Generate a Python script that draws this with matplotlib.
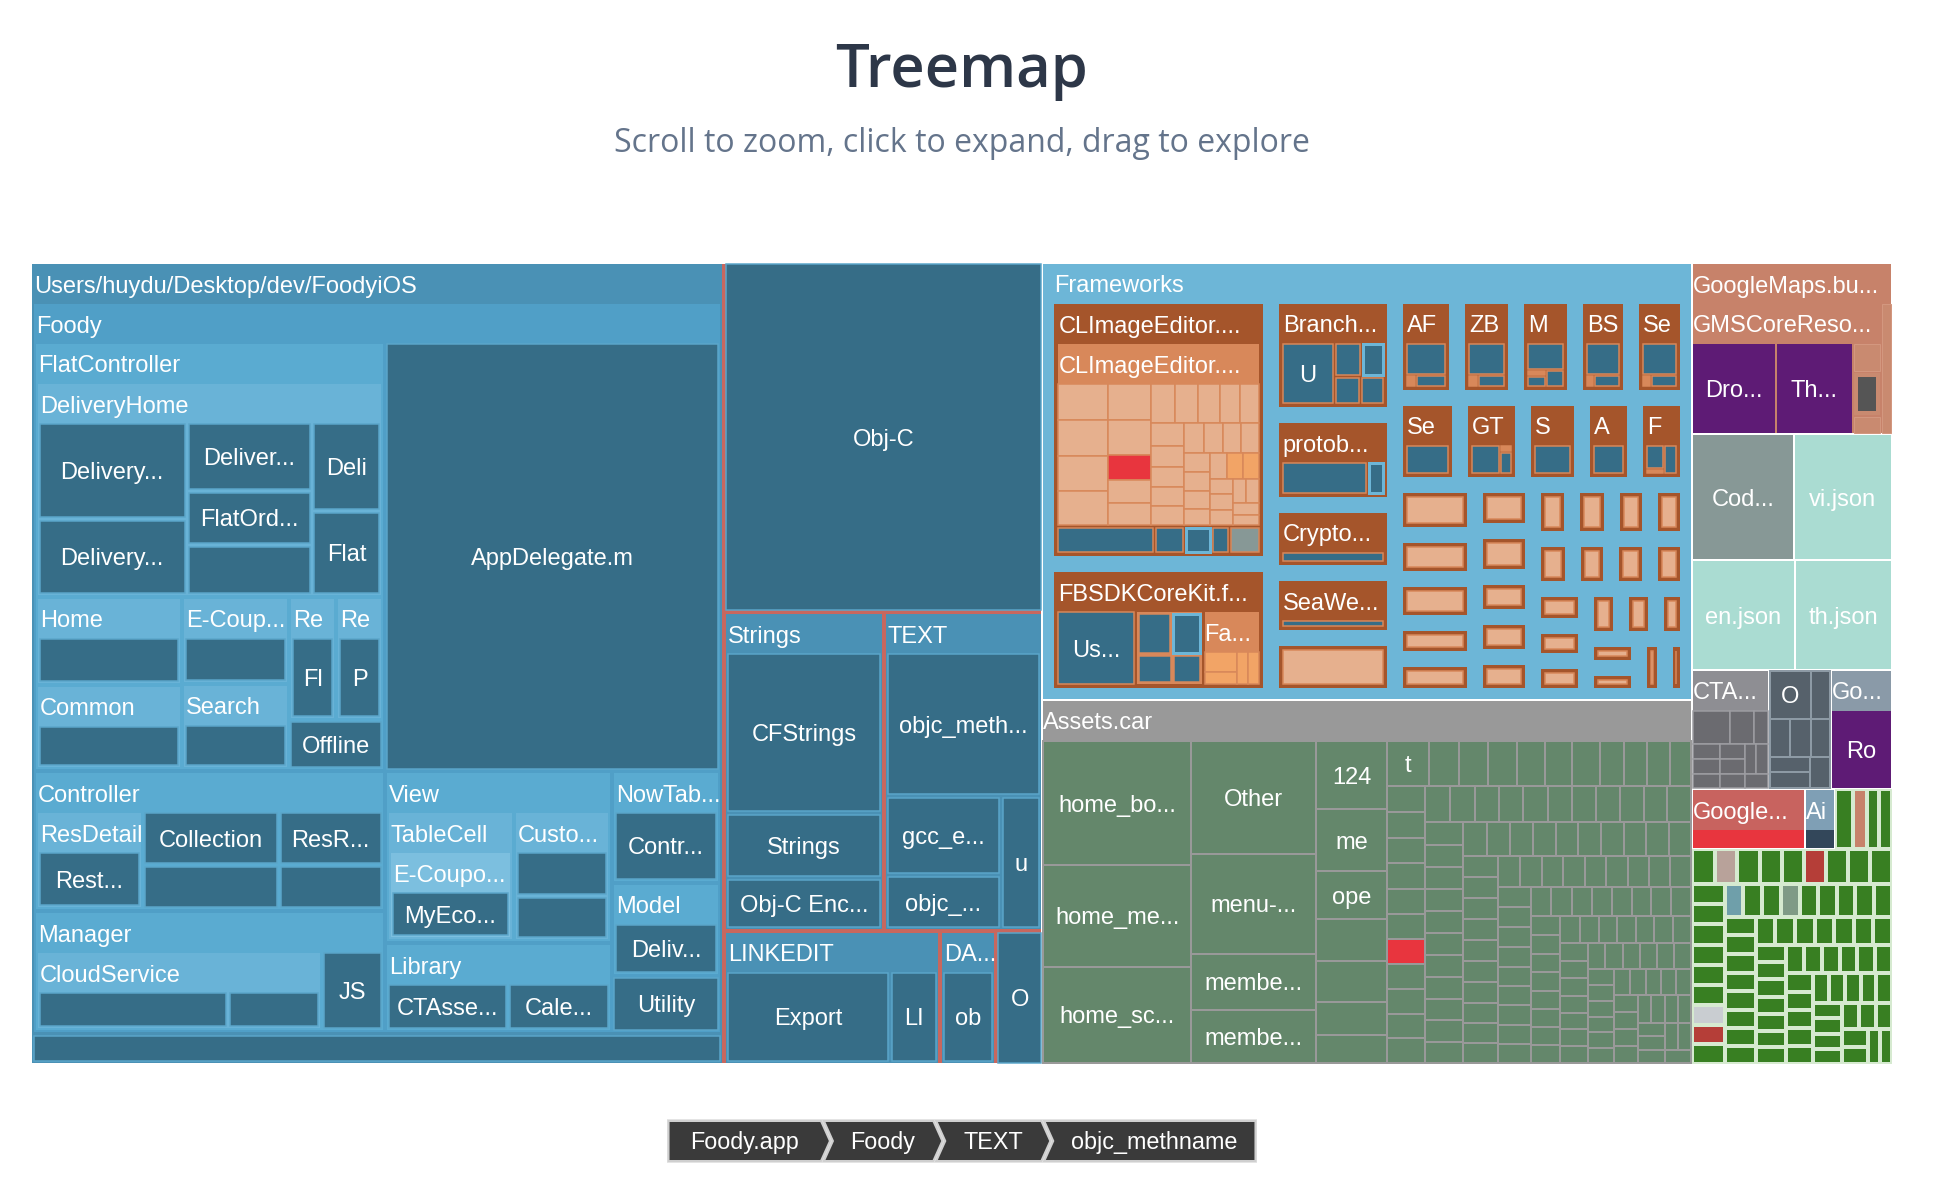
import matplotlib
matplotlib.use("Agg")
import matplotlib.pyplot as plt
from matplotlib.patches import Rectangle, Polygon
from matplotlib.textpath import TextPath
from matplotlib.font_manager import FontProperties

W, H = 1960, 1178
PHI = (1 + 5 ** 0.5) / 2
PX = 0.72  # points per pixel at dpi 100
LABEL_FONT = ["Liberation Sans", "DejaVu Sans"]
LABEL_SIZE = 17

# colours
DARK = "#366d87"; DARK_EDGE = "#5ba6ca"
USERS = "#4a91b5"; FOODY = "#509fc7"; LVL3 = "#5aabd1"; LVL4 = "#69b3d7"; LVL5 = "#7cbfdf"
BIN_RED = "#c8675e"; SECTION = "#4a91b5"
FW_BG = "#6db6d7"; BROWN = "#a5552b"; ORANGE = "#d8885a"; PEACH = "#e6b08e"
ORANGE_L = "#f2a466"; RED = "#e8353e"
ASSET_HDR = "#999999"; ASSET_CELL = "#64876b"
GMAPS = "#c7826a"; GMAPS_CELL = "#c98a70"; PURPLE = "#5e1b75"; COD = "#879896"; JSON = "#aadcd2"
CTA_HDR = "#8e8e93"; CTA_CELL = "#6b6b70"; O_CELL = "#56616b"; GO_HDR = "#8a9aa8"
GOOGLE_HDR = "#c8635f"; AI_HDR = "#7f9fb5"; AI_CELL = "#33475a"; GREEN = "#387f22"

# ---------------- data ----------------
top_labels = ["", "Frameworks", "Assets.car", "GoogleMaps.bu...", "Cod...", "vi.json", "en.json",
              "th.json", "CTA...", "", "Go...", "Google...", "Ai"]
top_sizes = [805, 282, 235, 34, 12.8, 12.3, 11.2, 10.6, 9.1, 7.4, 7.2, 6.7, 1.8]

# Foody binary
binary_labels = ["Users/huydu/Desktop/dev/FoodyiOS", "Obj-C", "Strings", "TEXT", "LINKEDIT", "DA...", "O"]
binary_sizes = [548, 110, 50, 50, 28.5, 7.4, 6.2]
users_sizes = [526, 21]

foody_labels = ["FlatController", "AppDelegate.m", "Controller", "Manager", "View", "Library",
                "NowTab...", "Model", "Utility"]
foody_sizes = [150, 143, 49, 42, 39, 20, 12, 10, 6]

flat_labels = ["DeliveryHome", "Home", "Common", "E-Coup...", "Search", "Re", "Re", "Offline"]
flat_sizes = [74.6, 12.9, 12.3, 9.4, 9.2, 5.8, 5.8, 4.6]
flat_child_labels = ["", "", "", "", "Fl", "P"]

delivery_labels = ["Delivery...", "Delivery...", "Deliver...", "FlatOrd...", "", "Deli", "Flat"]
delivery_sizes = [14.4, 11.1, 8.6, 6.8, 6.2, 6.1, 5.7]

controller_labels = ["ResDetail", "Collection", "", "ResR...", ""]
controller_sizes = [10.7, 7.4, 6.1, 5.7, 4.7]

manager_labels = ["CloudService", "JS"]
manager_sizes = [23, 4.9]
cloud_sizes = [7.5, 3.6]

view_labels = ["TableCell", "Custo..."]
view_sizes = [16.8, 12.8]
custo_sizes = [4.3, 4.2]

library_labels = ["CTAsse...", "Cale..."]
library_sizes = [5.9, 5.0]

strings_labels = ["CFStrings", "Strings", "Obj-C Enc..."]
strings_sizes = [23.5, 9.6, 7.4]
text_labels = ["objc_meth...", "gcc_e...", "objc_...", "u"]
text_sizes = [21, 8.6, 5.8, 5.1]
linkedit_labels = ["Export", "LI"]
linkedit_sizes = [14.9, 4.4]

# Frameworks
fw_labels = ["CLImageEditor....", "FBSDKCoreKit.f...", "Branch...", "protob...", "Crypto...", "SeaWe...", ""]
fw_sizes = [59.4, 29.2, 14.6, 10.9, 8.4, 7.9, 7.1]
fw_row1_labels = ["AF", "ZB", "M", "BS", "Se"]
fw_row1_sizes = [6.3, 5.9, 5.9, 5.7, 5.7]
fw_row2_labels = ["Se", "GT", "S", "A", "F"]
fw_row2_sizes = [5.6, 5.4, 5.0, 4.6, 4.5]
fw_small_sizes = [4.0, 3.5, 3.5, 2.9, 2.9, 2.6, 2.6, 2.3, 2.25, 2.2, 2.1, 2.1, 2.05, 2.0, 2.0,
                  1.95, 1.95, 1.9, 1.9, 1.85, 1.8, 1.75, 1.7, 1.6, 1.5, 1.5, 1.4, 1.3]

climage_sizes = [35.8, 2.5, 0.75, 0.7, 0.45, 0.8]
bundle_sizes = [1.67, 1.65, 1.6, 1.6, 1.45, 1.43, 1.0, 0.95, 0.9, 0.88, 0.85, 0.8, 0.75, 0.7, 0.7,
                0.65, 0.63, 0.6, 0.6, 0.56, 0.55, 0.5, 0.5, 0.45, 0.45, 0.42, 0.4, 0.4, 0.38, 0.38,
                0.35, 0.35, 0.33, 0.3, 0.3, 0.28, 0.25]
bundle_special = {6: RED, 28: ORANGE_L, 29: ORANGE_L}
fbsdk_sizes = [5.5, 4.7, 4.0]
fbsdk_grid_sizes = [1.2, 1.07, 0.87, 0.73]
fa_sizes = [0.6, 0.36, 0.33, 0.33]
branch_sizes = [2.5, 0.68, 0.6, 0.55, 0.5]
protob_sizes = [4.0, 0.8]
row1_inner_sizes = [2.2, 0.2, 0.6]
m_inner_sizes = [1.6, 0.2, 0.35, 0.5]
gt_inner_sizes = [3.0, 0.3, 1.0]
f_inner_sizes = [1.4, 0.3, 1.2]

# Assets.car
assets_labels = ["home_bo...", "home_me...", "home_sc...", "Other", "menu-...", "membe...", "membe...",
                 "124", "me", "ope", "", "", "", "", "t"]
assets_sizes = [18.2, 14.8, 14.1, 14.0, 12.3, 6.9, 6.6, 4.8, 4.3, 3.4, 2.9, 2.9, 2.3, 1.95, 1.9]
assets_row_sizes = [1.33, 1.33, 1.29, 1.25, 1.23, 1.22, 1.1, 1.04, 1.02, 0.95]
assets_small_sizes = [
    0.97, 0.97, 0.96, 0.96, 0.95, 0.95, 0.95, 0.94, 0.94, 0.93, 0.93,
    0.88, 0.88, 0.87, 0.87, 0.86, 0.86, 0.86, 0.85, 0.85, 0.85, 0.84,
    0.84, 0.83, 0.83, 0.83, 0.82, 0.82, 0.82, 0.81, 0.81, 0.81,
    0.78, 0.78, 0.77, 0.77, 0.76, 0.76, 0.76, 0.75, 0.75, 0.75, 0.74,
    0.74, 0.73, 0.73, 0.73, 0.72, 0.72, 0.72, 0.71, 0.71,
    0.68, 0.68, 0.67, 0.67, 0.67, 0.66, 0.66, 0.66, 0.65, 0.65,
    0.64, 0.64, 0.63, 0.63, 0.63, 0.62, 0.62, 0.62, 0.61,
    0.58, 0.58, 0.57, 0.57, 0.57, 0.56, 0.56, 0.56, 0.55,
    0.54, 0.54, 0.53, 0.53, 0.53, 0.52, 0.52, 0.52,
    0.50, 0.50, 0.49, 0.49, 0.49, 0.48, 0.48, 0.48,
    0.47, 0.46, 0.46, 0.46, 0.45, 0.45, 0.45, 0.44, 0.44, 0.44, 0.43, 0.43,
    0.42, 0.42, 0.41, 0.41, 0.40, 0.40, 0.39, 0.39, 0.38, 0.38,
    0.40, 0.40, 0.39, 0.39, 0.38, 0.38, 0.37, 0.37, 0.36, 0.36, 0.35, 0.35, 0.35, 0.34]
assets_red_index = 6

# right column
gmaps_sizes = [24.3, 1.4]
gmscore_labels = ["Dro...", "Th..."]
gmscore_sizes = [7.4, 6.7, 0.8, 1.2, 0.5]
cta_sizes = [1.2, 0.8, 0.45, 0.4, 0.4, 0.38, 0.36, 0.36, 0.35, 0.34, 0.34, 0.33]
o_labels = ["O", "", "", "", "", "", "", ""]
o_sizes = [2.2, 1.0, 0.85, 0.85, 0.8, 0.7, 0.7, 0.7]
tail_sizes = [
    1.1, 0.8, 0.75, 0.75,
    0.78, 0.78, 0.77, 0.77, 0.76, 0.76, 0.76, 0.75, 0.75,
    0.66, 0.66, 0.66, 0.65, 0.65, 0.65, 0.65, 0.64, 0.64,
    0.62, 0.62, 0.62, 0.61, 0.61, 0.61, 0.61, 0.60, 0.60,
    0.58, 0.58, 0.57, 0.57, 0.57, 0.56, 0.56, 0.56, 0.55, 0.55,
    0.55, 0.54, 0.54, 0.54, 0.53, 0.53, 0.53, 0.52, 0.52, 0.52,
    0.51, 0.51, 0.51, 0.50, 0.50, 0.50, 0.49, 0.49, 0.49, 0.48,
    0.48, 0.48, 0.47, 0.47, 0.47, 0.46, 0.46, 0.46, 0.45, 0.45,
    0.45, 0.44, 0.44, 0.44, 0.43, 0.43, 0.43, 0.42, 0.42]
tail_special = {1: GMAPS, 5: "#b8a29a", 9: "#b53e38", 19: "#c9cdd1", 20: "#b53e38",
                22: "#6f9faa", 25: "#7f9a86"}

crumbs = ["Foody.app", "Foody", "TEXT", "objc_methname"]


# ---------------- tree helpers ----------------
def leaf(label, size, color, edge=None, lw=1.5):
    return {"label": label, "size": size, "color": color, "edge": edge, "lw": lw}


def group(label, size, color, kids, outer=2, inner=4, header=None):
    return {"label": label, "size": size, "color": color, "kids": kids,
            "outer": outer, "inner": inner, "header": header}


def dark(label, size, edge=DARK_EDGE, lw=1.5):
    return leaf(label, size, DARK, edge, lw)


def blues(labels, sizes):
    return [dark(l, s) for l, s in zip(labels, sizes)]


# Users tree
flat_kids = [group(flat_labels[0], flat_sizes[0], LVL4, blues(delivery_labels, delivery_sizes))]
for lab, s, child in zip(flat_labels[1:7], flat_sizes[1:7], flat_child_labels):
    flat_kids.append(group(lab, s, LVL4, [dark(child, 1)]))
flat_kids.append(dark(flat_labels[7], flat_sizes[7]))

controller_kids = [group(controller_labels[0], controller_sizes[0], LVL4, [dark("Rest...", 1)])]
controller_kids += blues(controller_labels[1:], controller_sizes[1:])

manager_kids = [group(manager_labels[0], manager_sizes[0], LVL4, blues(["", ""], cloud_sizes)),
                dark(manager_labels[1], manager_sizes[1])]

view_kids = [group(view_labels[0], view_sizes[0], LVL4,
                   [group("E-Coupo...", 1, LVL5, [dark("MyEco...", 1)])]),
             group(view_labels[1], view_sizes[1], LVL4, blues(["", ""], custo_sizes))]

foody_kids = [
    group(foody_labels[0], foody_sizes[0], LVL3, flat_kids),
    dark(foody_labels[1], foody_sizes[1]),
    group(foody_labels[2], foody_sizes[2], LVL3, controller_kids),
    group(foody_labels[3], foody_sizes[3], LVL3, manager_kids),
    group(foody_labels[4], foody_sizes[4], LVL3, view_kids),
    group(foody_labels[5], foody_sizes[5], LVL3, blues(library_labels, library_sizes)),
    group(foody_labels[6], foody_sizes[6], LVL3, [dark("Contr...", 1)]),
    group(foody_labels[7], foody_sizes[7], LVL3, [dark("Deliv...", 1)]),
    dark(foody_labels[8], foody_sizes[8]),
]

users = group(binary_labels[0], binary_sizes[0], USERS,
              [group("Foody", users_sizes[0], FOODY, foody_kids), dark("", users_sizes[1])])

binary = group(top_labels[0], top_sizes[0], BIN_RED, [
    users,
    dark(binary_labels[1], binary_sizes[1]),
    group(binary_labels[2], binary_sizes[2], SECTION, blues(strings_labels, strings_sizes)),
    group(binary_labels[3], binary_sizes[3], SECTION, blues(text_labels, text_sizes)),
    group(binary_labels[4], binary_sizes[4], SECTION, blues(linkedit_labels, linkedit_sizes)),
    group(binary_labels[5], binary_sizes[5], SECTION, [dark("ob", 1)]),
    dark(binary_labels[6], binary_sizes[6]),
], outer=0, inner=4, header=False)


# Frameworks tree
def brown_dark(size, framed=False):
    if framed:
        return leaf("", size, DARK, FW_BG, 3)
    return leaf("", size, DARK, ORANGE)


bundle = group("CLImageEditor....", climage_sizes[0], ORANGE,
               [leaf("", s, bundle_special.get(i, PEACH), ORANGE) for i, s in enumerate(bundle_sizes)],
               outer=0, inner=0)
climage = group(fw_labels[0], fw_sizes[0], BROWN, [
    bundle, brown_dark(climage_sizes[1]), brown_dark(climage_sizes[2]),
    brown_dark(climage_sizes[3], True), brown_dark(climage_sizes[4]),
    leaf("", climage_sizes[5], COD, ORANGE)], outer=4, inner=3)

fbsdk = group(fw_labels[1], fw_sizes[1], BROWN, [
    leaf("Us...", fbsdk_sizes[0], DARK, ORANGE),
    group("", fbsdk_sizes[1], ORANGE, [brown_dark(fbsdk_grid_sizes[0]), brown_dark(fbsdk_grid_sizes[1], True),
                                       brown_dark(fbsdk_grid_sizes[2]), brown_dark(fbsdk_grid_sizes[3])],
          outer=2, inner=3, header=False),
    group("Fa...", fbsdk_sizes[2], ORANGE, [leaf("", s, ORANGE_L, ORANGE) for s in fa_sizes], outer=0, inner=0),
], outer=4, inner=3)

branch = group(fw_labels[2], fw_sizes[2], BROWN, [
    leaf("U", branch_sizes[0], DARK, ORANGE), brown_dark(branch_sizes[1]), brown_dark(branch_sizes[2], True),
    brown_dark(branch_sizes[3]), brown_dark(branch_sizes[4])], outer=4, inner=3)
protob = group(fw_labels[3], fw_sizes[3], BROWN,
               [brown_dark(protob_sizes[0]), brown_dark(protob_sizes[1], True)], outer=4, inner=3)
crypto = group(fw_labels[4], fw_sizes[4], BROWN, [brown_dark(1)], outer=4, inner=3)
seawe = group(fw_labels[5], fw_sizes[5], BROWN, [brown_dark(1)], outer=4, inner=3)
blank_fw = group(fw_labels[6], fw_sizes[6], BROWN, [leaf("", 1, PEACH, ORANGE)], outer=4, inner=3, header=False)


def small_fw(label, size, inner_sizes, inner_colors):
    kids = [leaf("", s, c, ORANGE) for s, c in zip(inner_sizes, inner_colors)]
    return group(label, size, BROWN, kids, outer=4, inner=2)


fw_kids = [climage, fbsdk, branch, protob, crypto, seawe, blank_fw]
for lab, s in zip(fw_row1_labels, fw_row1_sizes):
    if lab == "M":
        fw_kids.append(small_fw(lab, s, m_inner_sizes, [DARK, ORANGE, DARK, DARK]))
    else:
        fw_kids.append(small_fw(lab, s, row1_inner_sizes, [DARK, ORANGE, DARK]))
for lab, s in zip(fw_row2_labels, fw_row2_sizes):
    if lab == "GT":
        fw_kids.append(small_fw(lab, s, gt_inner_sizes, [DARK, ORANGE, DARK]))
    elif lab == "F":
        fw_kids.append(small_fw(lab, s, f_inner_sizes, [DARK, ORANGE, DARK]))
    else:
        fw_kids.append(small_fw(lab, s, [1], [DARK]))
for s in fw_small_sizes:
    g = small_fw("", s, [1], [PEACH])
    g["header"] = False
    fw_kids.append(g)

frameworks = group(top_labels[1], top_sizes[1], FW_BG, fw_kids, outer=11, inner=16)

# Assets.car
asset_kids = [leaf(l, s, ASSET_CELL, ASSET_HDR, 2) for l, s in zip(assets_labels, assets_sizes)]
asset_kids += [leaf("", s, ASSET_CELL, ASSET_HDR, 2) for s in assets_row_sizes]
asset_kids += [leaf("", s, RED if i == assets_red_index else ASSET_CELL, ASSET_HDR, 2)
               for i, s in enumerate(assets_small_sizes)]
assets = group(top_labels[2], top_sizes[2], ASSET_HDR, asset_kids, outer=0, inner=0)

# right column
gmscore = group("GMSCoreReso...", gmaps_sizes[0], GMAPS, [
    leaf(gmscore_labels[0], gmscore_sizes[0], PURPLE),
    leaf(gmscore_labels[1], gmscore_sizes[1], PURPLE),
    leaf("", gmscore_sizes[2], GMAPS_CELL, "#d3977f", 1),
    group("", gmscore_sizes[3], GMAPS_CELL, [leaf("", 1, "#555555")], outer=4, inner=0, header=False),
    leaf("", gmscore_sizes[4], GMAPS_CELL, "#d3977f", 1)], outer=0, inner=2)
gmaps = group(top_labels[3], top_sizes[3], GMAPS,
              [gmscore, leaf("", gmaps_sizes[1], GMAPS_CELL, "#d3977f", 1)], outer=0, inner=2)

right_kids = [
    gmaps,
    leaf(top_labels[4], top_sizes[4], COD),
    leaf(top_labels[5], top_sizes[5], JSON),
    leaf(top_labels[6], top_sizes[6], JSON),
    leaf(top_labels[7], top_sizes[7], JSON),
    group(top_labels[8], top_sizes[8], CTA_HDR, [leaf("", s, CTA_CELL, "#9d9da2") for s in cta_sizes],
          outer=0, inner=0),
    group(top_labels[9], top_sizes[9], "#8d9aa5",
          [leaf(l, s, O_CELL, "#8d9aa5", 2) for l, s in zip(o_labels, o_sizes)],
          outer=0, inner=0, header=False),
    group(top_labels[10], top_sizes[10], GO_HDR, [leaf("Ro", 1, PURPLE)], outer=0, inner=0),
    group(top_labels[11], top_sizes[11], GOOGLE_HDR, [leaf("", 1, RED)], outer=0, inner=0),
    group(top_labels[12], top_sizes[12], AI_HDR, [leaf("", 1, AI_CELL)], outer=0, inner=0),
]
right_kids += [leaf("", s, tail_special.get(i, GREEN), "#d6ead0", 2) for i, s in enumerate(tail_sizes)]

root_kids = [binary, frameworks, assets] + right_kids
root = group("", sum(k["size"] for k in root_kids), "white", root_kids, outer=0, inner=2, header=False)


# ---------------- layout (d3 style squarify) ----------------
def squarify(nodes, x0, y0, x1, y1):
    value = sum(n["size"] for n in nodes)
    i0, n = 0, len(nodes)
    while i0 < n:
        dx, dy = max(x1 - x0, 1e-6), max(y1 - y0, 1e-6)
        i1 = i0
        sum_v = nodes[i1]["size"]
        i1 += 1
        min_v = max_v = sum_v
        alpha = max(dy / dx, dx / dy) / (value * PHI)
        beta = sum_v * sum_v * alpha
        min_ratio = max(max_v / beta, beta / min_v)
        while i1 < n:
            nv = nodes[i1]["size"]
            s = sum_v + nv
            mn, mx = min(min_v, nv), max(max_v, nv)
            beta = s * s * alpha
            new_ratio = max(mx / beta, beta / mn)
            if new_ratio > min_ratio:
                break
            sum_v, min_v, max_v, min_ratio = s, mn, mx, new_ratio
            i1 += 1
        row = nodes[i0:i1]
        if dx < dy:
            yk = y0 + dy * sum_v / value
            x = x0
            for nd in row:
                w = (x1 - x0) * nd["size"] / sum_v
                nd["rect"] = (x, y0, x + w, yk)
                x += w
            y0 = yk
        else:
            xk = x0 + dx * sum_v / value
            y = y0
            for nd in row:
                h = (y1 - y0) * nd["size"] / sum_v
                nd["rect"] = (x0, y, xk, y + h)
                y += h
            x0 = xk
        value -= sum_v
        i0 = i1


def position(nd, x0, y0, x1, y1, p):
    x0 += p; y0 += p; x1 -= p; y1 -= p
    if x1 < x0:
        x0 = x1 = (x0 + x1) / 2
    if y1 < y0:
        y0 = y1 = (y0 + y1) / 2
    nd["box"] = (x0, y0, x1, y1)
    kids = nd.get("kids")
    if not kids:
        return
    o, q = nd["outer"], nd["inner"] / 2
    hdr = nd["header"]
    if hdr is None:
        hdr = bool(nd["label"]) and (y1 - y0) >= 44
    nd["show_header"] = hdr
    top = 40 if hdr else o
    cx0, cy0, cx1, cy1 = x0 + o - q, y0 + top - q, x1 - o + q, y1 - o + q
    if cx1 < cx0:
        cx0 = cx1 = (cx0 + cx1) / 2
    if cy1 < cy0:
        cy0 = cy1 = (cy0 + cy1) / 2
    squarify(kids, cx0, cy0, cx1, cy1)
    for k in kids:
        position(k, *k["rect"], q)


position(root, 32, 264, 1891, 1063, 0)

# ---------------- drawing ----------------
fig = plt.figure(figsize=(W / 100, H / 100), dpi=100)
ax = fig.add_axes([0, 0, 1, 1])
ax.set_xlim(0, W)
ax.set_ylim(H, 0)
ax.axis("off")


def draw(nd):
    x0, y0, x1, y1 = nd["box"]
    kids = nd.get("kids")
    if kids or not nd.get("edge"):
        r = Rectangle((x0, y0), x1 - x0, y1 - y0, facecolor=nd["color"], edgecolor="none", lw=0)
    else:
        r = Rectangle((x0, y0), x1 - x0, y1 - y0, facecolor=nd["color"],
                      edgecolor=nd["edge"], lw=nd["lw"] * PX)
    ax.add_patch(r)
    t = None
    if nd["label"]:
        if kids and nd.get("show_header"):
            t = ax.text(x0 + nd["outer"], y0 + 28.5, nd["label"], color="white", fontsize=LABEL_SIZE,
                        family=LABEL_FONT, ha="left", va="baseline", zorder=5)
        elif not kids:
            t = ax.text((x0 + x1) / 2, (y0 + y1) / 2 + 8.5, nd["label"], color="white",
                        fontsize=LABEL_SIZE, family=LABEL_FONT, ha="center", va="baseline", zorder=5)
    if t is not None:
        t.set_clip_path(r)
    for k in kids or []:
        draw(k)


draw(root)

# title and subtitle
ax.text(962, 87, "Treemap", fontsize=43, fontweight="semibold", family=["Open Sans", "DejaVu Sans"],
        color="#2d3748", ha="center", va="baseline")
ax.text(962, 152, "Scroll to zoom, click to expand, drag to explore", fontsize=23,
        family=["Open Sans", "DejaVu Sans"], color="#64748b", ha="center", va="baseline")

# breadcrumb
crumb_px = 23.5
fp = FontProperties(family="Liberation Sans", size=crumb_px)
widths = [TextPath((0, 0), c, size=crumb_px, prop=fp).get_extents().width + 46 for c in crumbs]
gap, tip = 3, 9
total = sum(widths) + gap * (len(widths) - 1)
xa = 962 - total / 2
top_y, bot_y = 1121, 1161
mid_y = (top_y + bot_y) / 2
ax.add_patch(Rectangle((xa - 2, top_y - 2), total + 4, bot_y - top_y + 4, facecolor="#e4e4e4",
                       edgecolor="none", zorder=6))
for i, (c, w) in enumerate(zip(crumbs, widths)):
    xb = xa + w
    pts = [(xa, top_y), (xb, top_y)]
    if i < len(crumbs) - 1:
        pts.append((xb + tip, mid_y))
    pts += [(xb, bot_y), (xa, bot_y)]
    if i > 0:
        pts.append((xa + tip, mid_y))
    ax.add_patch(Polygon(pts, closed=True, facecolor="#3a3a3a", edgecolor="#cfcfcf",
                         lw=2 * PX, zorder=7))
    cx = xa + w / 2 + (tip / 2 if i > 0 else 0)
    ax.text(cx, 1149, c, color="white", fontsize=16.8, family=LABEL_FONT, ha="center",
            va="baseline", zorder=8)
    xa = xb + gap

fig.savefig("out.png", dpi=100)
